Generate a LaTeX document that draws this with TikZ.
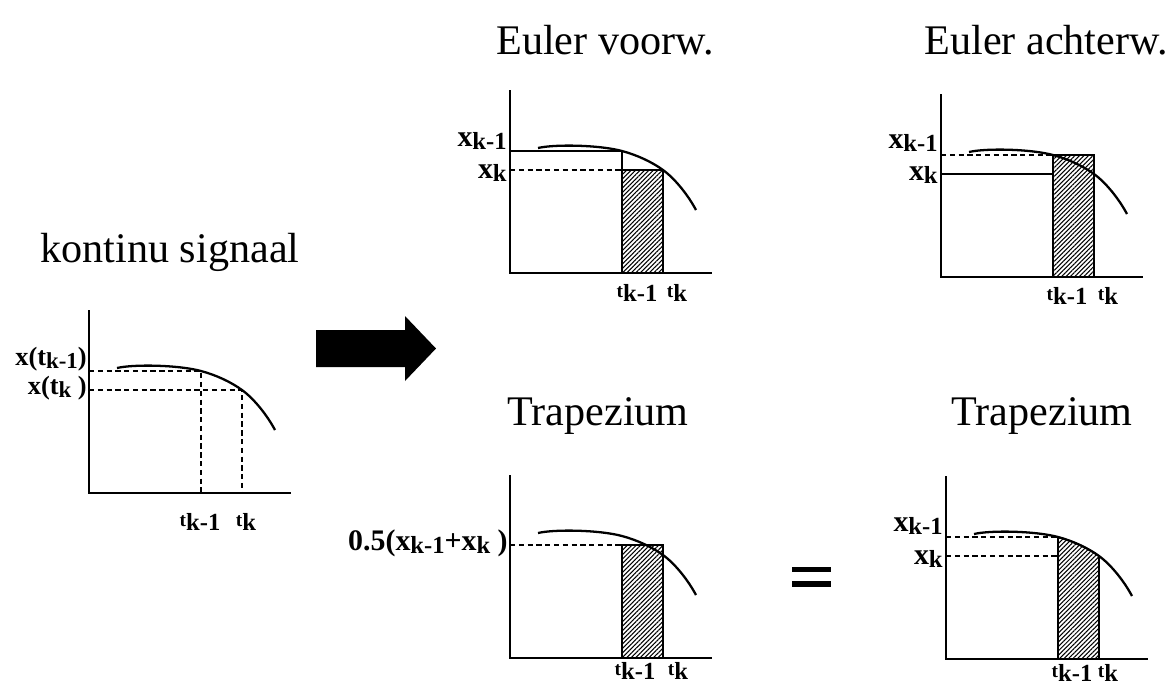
\documentclass[tikz,border=0pt]{standalone}
\usepackage{fontspec}
\setmainfont{Liberation Serif}
\usetikzlibrary{patterns.meta}

% subscripts as printed on the slide
\newcommand{\xsub}[1]{\raisebox{-0.25ex}{\fontsize{14}{14}\selectfont #1}}
\newcommand{\xsubs}[1]{\raisebox{-0.25ex}{\fontsize{13}{13}\selectfont #1}}
\newcommand{\tk}[1]{{\fontsize{11}{11}\selectfont t}\raisebox{-0.55ex}{\fontsize{14}{14}\selectfont #1}}

\begin{document}
\begin{tikzpicture}[x=0.02cm,y=-0.02cm,
  title/.style={font=\fontsize{24}{28}\selectfont,inner sep=0pt,anchor=base},
  lab/.style={font=\bfseries\fontsize{17}{19}\selectfont,inner sep=0pt,anchor=base east},
  labs/.style={font=\bfseries\fontsize{15}{17}\selectfont,inner sep=0pt,anchor=base east},
  tlab/.style={font=\bfseries,inner sep=0pt,anchor=base},
  axis/.style={line width=1pt},
  curve/.style={line width=1.3pt},
  guide/.style={line width=0.7pt,densely dashed},
  level/.style={line width=0.6pt},
  hatch/.style={draw,line width=0.9pt,
    pattern={Lines[angle=45,distance=1.8pt,line width=0.6pt]}}
]
\useasboundingbox (0,0) rectangle (1173,694);

% axes and signal, same in every panel
\foreach \ox/\oy in {89/493, 510/273, 941/277, 510/658, 946/659} {
  \begin{scope}[shift={(\ox,\oy)},yscale=-1]
    \draw[axis] (0,183) -- (0,0) -- (202,0);
    \draw[curve] (28,125) .. controls (45,129) and (90,128) .. (112,122)
      .. controls (127,118) and (142,111) .. (153,103)
      .. controls (165,94.3) and (178,78) .. (186,63);
  \end{scope}
}

% kontinu signaal
\node[title] (ttlCont) at (170,262) {kontinu signaal};
\begin{scope}[shift={(89,493)},yscale=-1]
  \draw[guide] (0,122) -| (112,0);
  \draw[guide] (0,103) -| (153,0);
\end{scope}
\node[labs] (contXa) at (87,365) {x(t\xsubs{k-1})};
\node[labs] (contXb) at (87,394) {x(t\xsubs{k} )};
\node[tlab] (contTa) at (200,526) {\tk{k-1}};
\node[tlab] (contTb) at (246,526) {\tk{k}};

% Euler voorwaarts
\node[title] (ttlFwd) at (605,54) {Euler voorw.};
\begin{scope}[shift={(510,273)},yscale=-1]
  \draw[hatch] (112,0) rectangle (153,103);
  \draw[level] (0,122) -| (112,103);
  \draw[guide] (0,103) -- (112,103);
\end{scope}
\node[lab] (fwdXa) at (507,146) {x\xsub{k-1}};
\node[lab] (fwdXb) at (507,178) {x\xsub{k}};
\node[tlab] (fwdTa) at (637,297) {\tk{k-1}};
\node[tlab] (fwdTb) at (677,297) {\tk{k}};

% Euler achterwaarts
\node[title] (ttlBwd) at (1046,54) {Euler achterw.};
\begin{scope}[shift={(941,277)},yscale=-1]
  \draw[hatch] (112,0) rectangle (153,122);
  \draw[guide] (0,122) -- (112,122);
  \draw[level] (0,103) -- (112,103);
\end{scope}
\node[lab] (bwdXa) at (938,148) {x\xsub{k-1}};
\node[lab] (bwdXb) at (938,180) {x\xsub{k}};
\node[tlab] (bwdTa) at (1067,300) {\tk{k-1}};
\node[tlab] (bwdTb) at (1108,300) {\tk{k}};

% big arrow
\fill (316,330) -- (405,330) -- (405,316) -- (436,348.5) -- (405,381)
  -- (405,367) -- (316,367) -- cycle;

% Trapezium, midden
\node[title] (ttlTrapA) at (598,425) {Trapezium};
\begin{scope}[shift={(510,658)},yscale=-1]
  \draw[hatch] (112,0) rectangle (153,113);
  \draw[guide] (0,113) -- (112,113);
\end{scope}
\node[lab] (trapAX) at (508,550) {0.5(x\xsub{k-1}+x\xsub{k} )};
\node[tlab] (trapATa) at (635,675) {\tk{k-1}};
\node[tlab] (trapATb) at (678,675) {\tk{k}};

% gelijkteken
\fill (792,567) rectangle (831,572);
\fill (792,581) rectangle (831,587);

% Trapezium, rechts
\node[title] (ttlTrapB) at (1042,425) {Trapezium};
\begin{scope}[shift={(946,659)},yscale=-1]
  \draw[hatch] (112,0) -- (112,122) .. controls (127,118) and (142,111) .. (153,103)
    -- (153,0) -- cycle;
  \draw[guide] (0,122) -- (112,122);
  \draw[guide] (0,103) -- (112,103);
\end{scope}
\node[lab] (trapBXa) at (943,531) {x\xsub{k-1}};
\node[lab] (trapBXb) at (943,564) {x\xsub{k}};
\node[tlab] (trapBTa) at (1072,677) {\tk{k-1}};
\node[tlab] (trapBTb) at (1108,677) {\tk{k}};
\end{tikzpicture}
\end{document}
